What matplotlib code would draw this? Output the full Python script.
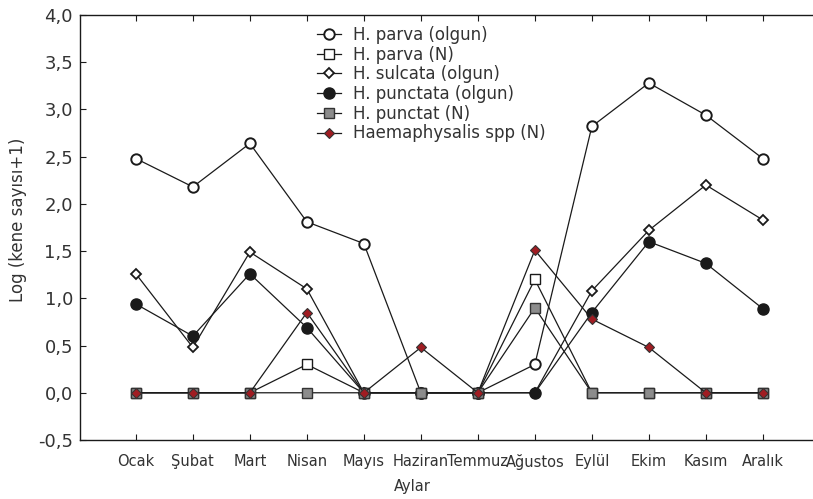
import numpy as np
import matplotlib
matplotlib.use("Agg")
import matplotlib.pyplot as plt
from matplotlib.ticker import FuncFormatter

aylar = ["Ocak", "Şubat", "Mart", "Nisan", "Mayıs", "Haziran", "Temmuz",
         "Ağustos", "Eylül", "Ekim", "Kasım", "Aralık"]

parva_olgun = [2.48, 2.18, 2.64, 1.81, 1.58, 0.0, 0.0, 0.30, 2.82, 3.28, 2.94, 2.48]
parva_n = [0.0, 0.0, 0.0, 0.30, 0.0, 0.0, 0.0, 1.20, 0.0, 0.0, 0.0, 0.0]
sulcata_olgun = [1.26, 0.48, 1.49, 1.10, 0.0, 0.0, 0.0, 0.0, 1.08, 1.72, 2.20, 1.83]
punctata_olgun = [0.94, 0.60, 1.26, 0.69, 0.0, 0.0, 0.0, 0.0, 0.85, 1.60, 1.37, 0.89]
punctat_n = [0.0, 0.0, 0.0, 0.0, 0.0, 0.0, 0.0, 0.90, 0.0, 0.0, 0.0, 0.0]
haema_n = [0.0, 0.0, 0.0, 0.85, 0.0, 0.48, 0.0, 1.51, 0.78, 0.48, 0.0, 0.0]

plt.rcParams['font.family'] = ['DejaVu Sans']

fig = plt.figure(figsize=(8.13, 4.99), dpi=100)
ax = fig.add_axes([80 / 813, 1 - 440 / 499, 1 - 80 / 813, 425 / 499])

x = np.arange(1, 13)
lw = 0.9
ax.plot(x, parva_olgun, color='#1a1a1a', lw=lw, marker='o', ms=7.5,
        mfc='white', mec='#1a1a1a', mew=1.4, label='H. parva (olgun)')
ax.plot(x, parva_n, color='#1a1a1a', lw=lw, marker='s', ms=7.5,
        mfc='white', mec='#1a1a1a', mew=1.0, label='H. parva (N)')
ax.plot(x, sulcata_olgun, color='#1a1a1a', lw=lw, marker='D', ms=5.5,
        mfc='white', mec='#1a1a1a', mew=1.3, label='H. sulcata (olgun)')
ax.plot(x, punctata_olgun, color='#1a1a1a', lw=lw, marker='o', ms=8,
        mfc='#1a1a1a', mec='#1a1a1a', label='H. punctata (olgun)')
ax.plot(x, punctat_n, color='#1a1a1a', lw=lw, marker='s', ms=7.5,
        mfc='#8c8c8c', mec='#333333', mew=1.0, label='H. punctat (N)')
ax.plot(x, haema_n, color='#1a1a1a', lw=lw, marker='D', ms=5,
        mfc='#a01c22', mec='#333333', mew=0.8, label='Haemaphysalis spp (N)')

ax.set_xlim(0.02, 12.88)
ax.set_ylim(-0.5, 4.0)
ax.set_xticks(x)
ax.set_xticklabels(aylar)
ax.set_yticks(np.arange(-0.5, 4.01, 0.5))
ax.yaxis.set_major_formatter(FuncFormatter(lambda v, p: f"{v:.1f}".replace('.', ',')))

ax.spines['right'].set_visible(False)
for s in ['left', 'bottom', 'top']:
    ax.spines[s].set_linewidth(1.0)
    ax.spines[s].set_color('#1a1a1a')
ax.tick_params(axis='x', direction='in', top=True, length=4, labelsize=10.5,
               colors='#1a1a1a', labelcolor='#333333', pad=10)
ax.tick_params(axis='y', direction='in', length=4, labelsize=13,
               colors='#1a1a1a', labelcolor='#333333', pad=5)

ax.set_xlabel('Aylar', fontsize=10.5, color='#333333')
ax.xaxis.set_label_coords((412 - 80) / 733, -(479 - 440) / 425)
ax.set_ylabel('Log (kene sayısı+1)', fontsize=12, color='#333333')
ax.yaxis.set_label_coords(-(80 - 27) / 733, (440 - 220) / 425)

leg = fig.legend(*ax.get_legend_handles_labels(), loc='upper left',
                 bbox_to_anchor=(317 / 813, 1 - 26 / 499), frameon=False,
                 fontsize=12, handlelength=1.45, handletextpad=0.7,
                 labelspacing=0.1, borderpad=0, borderaxespad=0)
for t in leg.get_texts():
    t.set_color('#333333')

fig.savefig('out.png', dpi=100)
